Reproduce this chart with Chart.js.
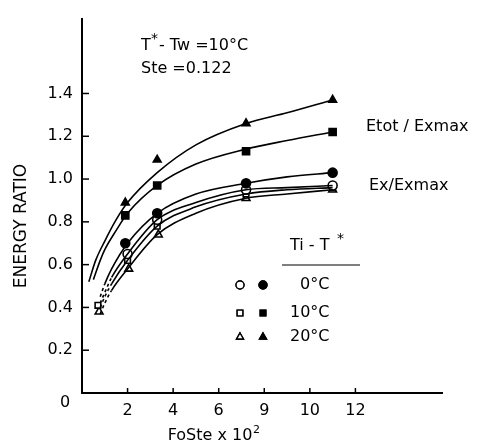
<!DOCTYPE html>
<html><head><meta charset="utf-8">
<script src="https://cdn.jsdelivr.net/npm/chart.js@4.4.1/dist/chart.umd.min.js"></script>
<style>html,body{margin:0;padding:0;background:#fff;}canvas{display:block;}</style>
</head><body>
<canvas id="c" width="485" height="446"></canvas>
<script>
// ---- data ----
const etot20X = [0.3, 0.6, 1.0, 1.5, 2.0, 3.3, 5.0, 7.2, 9.0, 11.0];
const etot20Y = [0.52, 0.62, 0.71, 0.81, 0.89, 1.03, 1.16, 1.26, 1.31, 1.37];
const etot10X = [0.5, 0.8, 1.0, 1.5, 2.0, 3.3, 5.0, 7.2, 9.0, 11.0];
const etot10Y = [0.53, 0.62, 0.67, 0.76, 0.84, 0.97, 1.07, 1.14, 1.18, 1.22];

const exX   = [0.8, 1.0, 1.3, 2.0, 3.3, 5.0, 7.2, 9.0, 11.0];
const ex0fY = [0.45, 0.51, 0.58, 0.70, 0.84, 0.93, 0.98, 1.01, 1.03];
const ex0Y  = [0.42, 0.47, 0.54, 0.65, 0.81, 0.89, 0.95, 0.96, 0.97];
const ex10Y = [0.40, 0.45, 0.51, 0.62, 0.78, 0.87, 0.93, 0.95, 0.96];
const ex20Y = [0.37, 0.42, 0.48, 0.58, 0.74, 0.84, 0.91, 0.93, 0.95];

const etotTriX = [1.9, 3.3, 7.2, 11.0];
const etotTriY = [0.89, 1.09, 1.26, 1.37];
const etotSqX  = [1.9, 3.3, 7.2, 11.0];
const etotSqY  = [0.83, 0.97, 1.13, 1.22];
const exCircFX = [1.9, 3.3, 7.2, 11.0];
const exCircFY = [0.70, 0.84, 0.98, 1.03];
const exCircX  = [2.0, 3.3, 7.2, 11.0];
const exCircY  = [0.65, 0.81, 0.95, 0.97];
const exSqX    = [2.0, 3.3, 7.2, 11.0, 0.7];
const exSqY    = [0.62, 0.78, 0.93, 0.96, 0.41];
const exTriX   = [2.05, 3.35, 7.2, 11.0, 0.75];
const exTriY   = [0.58, 0.74, 0.91, 0.95, 0.38];

const xTickLabels = {2:'2', 4:'4', 6:'6', 8:'9', 10:'10', 12:'12'};
const yTickLabels = {0.2:'0.2', 0.4:'0.4', 0.6:'0.6', 0.8:'0.8', 1:'1.0', 1.2:'1.2', 1.4:'1.4'};
const originLabel = '0';

const FONT = '"DejaVu Sans", sans-serif';
const pts = (xs, ys) => xs.map((x, i) => ({x, y: ys[i]}));

function curve(xs, ys, dashedBelow) {
  return {
    data: pts(xs, ys), showLine: true, borderColor: '#000', borderWidth: 1.6,
    pointRadius: 0, cubicInterpolationMode: 'monotone', fill: false,
    segment: { borderDash: ctx => (dashedBelow && ctx.p0.parsed.x < dashedBelow) ? [3, 3] : undefined }
  };
}
function marks(xs, ys, style, filled, r) {
  return {
    data: pts(xs, ys), showLine: false, pointStyle: style, pointRadius: r || 4.5,
    pointBorderColor: '#000', pointBorderWidth: 1.6,
    pointBackgroundColor: filled ? '#000' : '#fff'
  };
}

const decor = {
  id: 'decor',
  afterDraw(chart) {
    const c = chart.ctx, xs = chart.scales.x, ys = chart.scales.y;
    c.save();
    c.strokeStyle = '#000'; c.fillStyle = '#000'; c.lineWidth = 1.5;
    // inward tick marks
    Object.keys(yTickLabels).map(Number).forEach(v => {
      const py = ys.getPixelForValue(v);
      c.beginPath(); c.moveTo(xs.left, py); c.lineTo(xs.left + 7, py); c.stroke();
    });
    Object.keys(xTickLabels).map(Number).forEach(v => {
      const px = xs.getPixelForValue(v);
      c.beginPath(); c.moveTo(px, ys.bottom); c.lineTo(px, ys.bottom - 5); c.stroke();
    });
    c.textBaseline = 'middle';
    // origin label
    c.font = '16px ' + FONT; c.textAlign = 'center';
    c.fillText(originLabel, xs.left - 17, ys.getPixelForValue(0) + 10);
    // axis titles
    c.fillText('FoSte x 10', 210, 436);
    c.font = '11px ' + FONT; c.textAlign = 'left';
    c.fillText('2', 253, 430);
    c.save(); c.translate(22, 226); c.rotate(-Math.PI / 2);
    c.font = '17px ' + FONT; c.textAlign = 'center';
    c.fillText('ENERGY RATIO', 0, 0); c.restore();
    // condition annotation
    c.font = '16px ' + FONT; c.textAlign = 'left';
    c.fillText('T', 141, 46);
    c.font = '14px ' + FONT; c.fillText('*', 151, 39);
    c.font = '16px ' + FONT; c.fillText('- Tw =10°C', 159, 46);
    c.fillText('Ste =0.122', 141, 69);
    // curve labels
    c.fillText('Etot / Exmax', 366, 127);
    c.fillText('Ex/Exmax', 369, 186);
    // legend
    c.fillText('Ti - T', 290, 246);
    c.font = '14px ' + FONT; c.fillText('*', 337, 239);
    c.font = '16px ' + FONT;
    c.lineWidth = 1.2;
    c.beginPath(); c.moveTo(282, 265); c.lineTo(360, 265); c.stroke();
    c.fillText('0°C', 300, 285);
    c.fillText('10°C', 290, 313);
    c.fillText('20°C', 290, 337);
    c.restore();
  }
};

new Chart(document.getElementById('c'), {
  type: 'scatter',
  data: { datasets: [
    curve(etot20X, etot20Y, 0),
    curve(etot10X, etot10Y, 0),
    curve(exX, ex0fY, 1.0),
    curve(exX, ex0Y, 1.3),
    curve(exX, ex10Y, 1.3),
    curve(exX, ex20Y, 1.3),
    marks(etotTriX, etotTriY, 'triangle', true),
    marks(etotSqX, etotSqY, 'rect', true, 5),
    marks(exCircFX, exCircFY, 'circle', true),
    marks(exCircX, exCircY, 'circle', false),
    marks(exSqX, exSqY, 'rect', false, 4),
    marks(exTriX, exTriY, 'triangle', false)
  ]},
  options: {
    responsive: false, animation: false, events: [],
    layout: { padding: { left: 0, right: 43, top: 10, bottom: 0 } },
    plugins: { legend: { display: false }, tooltip: { enabled: false } },
    scales: {
      x: {
        type: 'linear', min: 0, max: 15.8,
        afterFit: s => { s.height = 53; },
        afterBuildTicks: s => { s.ticks = Object.keys(xTickLabels).map(v => ({value: Number(v)})); },
        ticks: { callback: v => xTickLabels[v] || '', color: '#000', font: { family: FONT, size: 16 }, padding: 8, maxRotation: 0, autoSkip: false },
        grid: { display: false, drawTicks: false },
        border: { display: true, color: '#000', width: 2 }
      },
      y: {
        type: 'linear', min: 0, max: 1.75,
        afterFit: s => { s.width = 82; },
        afterBuildTicks: s => { s.ticks = Object.keys(yTickLabels).map(v => ({value: Number(v)})); },
        ticks: { callback: v => yTickLabels[Math.round(v * 10) / 10] || '', color: '#000', font: { family: FONT, size: 16 }, padding: 9, autoSkip: false },
        grid: { display: false, drawTicks: false },
        border: { display: true, color: '#000', width: 2 }
      }
    }
  },
  plugins: [decor, {
    id: 'legendSymbols',
    afterDraw(chart) {
      const c = chart.ctx;
      const draw = (style, x, y) => {
        Chart.helpers.drawPoint(c, { pointStyle: style, radius: 4, borderWidth: 1.4 }, x, y);
      };
      c.save(); c.strokeStyle = '#000'; c.lineWidth = 1.4;
      [['circle', 285], ['rect', 313], ['triangle', 337]].forEach(([s, y]) => {
        c.fillStyle = '#fff'; draw(s, 240, y); c.fill(); c.stroke();
        c.fillStyle = '#000'; draw(s, 263, y); c.fill(); c.stroke();
      });
      c.restore();
    }
  }]
});
</script>
</body></html>
